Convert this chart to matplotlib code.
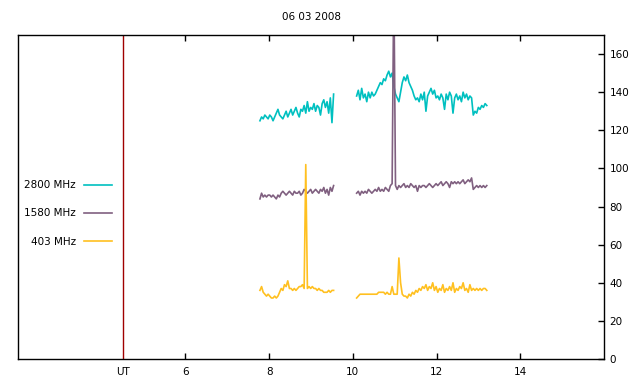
import numpy as np
import matplotlib
matplotlib.use("Agg")
import matplotlib.pyplot as plt

title = "06 03 2008"
labels = ["2800 MHz", "1580 MHz", "403 MHz"]
colors = ["#00c0c0", "#806080", "#ffc020"]

seg1_start, seg1_end = 7.78, 9.54
seg2_start, seg2_end = 10.09, 13.20

f2800_seg1 = [125, 127, 126, 128, 127, 126, 128, 127, 125, 127,
              129, 131, 128, 127, 126, 128, 130, 127, 129, 131,
              128, 130, 132, 129, 127, 131, 130, 133, 129, 135,
              130, 132, 131, 134, 130, 133, 132, 128, 134, 136,
              132, 135, 129, 137, 124, 139]
f2800_seg2 = [138, 141, 136, 142, 137, 139, 135, 140,
              137, 140, 138, 139, 141,
              143, 145, 144, 147, 146,
              149, 151, 148, 150,
              143, 139, 137, 135,
              140, 145, 148, 146, 149,
              145, 143, 141, 138, 136,
              137, 135, 139, 136, 140, 130, 138,
              140, 142, 139, 141, 137,
              138, 136, 139, 137, 131, 139, 136, 140, 138, 129,
              137, 139, 136, 138, 135, 140, 137, 139, 136, 138,
              137, 128,
              130, 129, 132, 131, 133, 132, 134, 133]

f1580_seg1 = [84, 87, 85, 86, 85, 86, 86, 85, 86, 85,
              84, 86, 85, 87, 88, 87, 86, 87, 88, 87,
              86, 88, 87, 87, 88, 86, 87, 89, 88, 87,
              88, 89, 87, 88, 89, 88, 87, 89, 88, 90,
              87, 89, 86, 90, 88, 91]
f1580_seg2 = [87, 88, 86, 88, 87, 88, 87, 89, 88, 87,
              88, 89, 88, 90, 88, 89, 88, 90, 89, 88,
              91, 92, 200, 91, 89, 91, 90, 91, 92, 90,
              91, 90, 92, 91, 90, 91, 88, 91, 90, 91,
              91, 90, 91, 92, 91, 90, 91, 92, 91, 92,
              93, 91, 92, 93, 92, 90, 93, 92, 93, 92,
              93, 92, 93, 94, 92, 93, 94, 93, 95,
              89, 90, 91, 90, 91, 90, 91, 90, 91]

f403_seg1 = [36, 38, 35, 34, 33, 34, 33, 32, 32, 33,
             32, 33, 35, 37, 36, 39, 38, 41, 37, 37,
             36, 37, 36, 37, 38, 38, 39, 37, 102, 37,
             38, 37, 38, 37, 37, 36, 37, 36, 36, 35,
             35, 35, 36, 35, 36, 36]
f403_seg2 = [32, 33, 34, 34, 34, 34, 34, 34, 34, 34,
             34, 34, 34, 35, 35, 35, 35, 34, 35, 34,
             34, 38, 34, 34, 34, 53, 40, 34, 33, 33,
             32, 34, 33, 35, 34, 36, 35, 37, 36, 38,
             37, 39, 36, 38, 37, 40, 36, 38, 35, 37,
             36, 39, 35, 37, 36, 38, 36, 40, 35, 37,
             36, 38, 37, 40, 36, 37, 35, 39, 36, 37,
             36, 37, 36, 37, 36, 37, 37, 36]

series = [(f2800_seg1, f2800_seg2), (f1580_seg1, f1580_seg2), (f403_seg1, f403_seg2)]

xticks = [4.5, 6, 8, 10, 12, 14]
xticklabels = ["UT", "6", "8", "10", "12", "14"]
yticks = [0, 20, 40, 60, 80, 100, 120, 140, 160]
ut_line = 4.5

plt.rcParams["font.family"] = ["DejaVu Sans"]
fig = plt.figure(figsize=(6.4, 3.84), dpi=100)
ax = fig.add_axes([18/640, 1-359/384, (604-18)/640, (359-35)/384])

ax.axvline(ut_line, color="#a00000", lw=1.0, zorder=1)

handles = []
for (s1, s2), lab, c in zip(series, labels, colors):
    t1 = np.linspace(seg1_start, seg1_end, len(s1))
    t2 = np.linspace(seg2_start, seg2_end, len(s2))
    h, = ax.plot(t1, s1, color=c, lw=1.2, label=lab, zorder=2)
    ax.plot(t2, s2, color=c, lw=1.2, zorder=2)
    handles.append(h)

ax.set_xlim(2, 16)
ax.set_ylim(0, 170)
ax.set_xticks(xticks)
ax.set_xticklabels(xticklabels, fontsize=7.5)
ax.set_yticks(yticks)
ax.set_yticklabels([str(v) for v in yticks], fontsize=7.5)
ax.yaxis.tick_right()
ax.tick_params(axis="x", direction="in", top=True, bottom=True, length=4, width=1, pad=6)
ax.tick_params(axis="y", direction="in", right=True, left=False, length=4, width=1, pad=4)
for tk in ax.xaxis.get_major_ticks()[:1]:
    tk.tick1line.set_visible(False)
    tk.tick2line.set_visible(False)
for sp in ax.spines.values():
    sp.set_linewidth(1.0)

ax.legend(handles=handles, loc="upper left", bbox_to_anchor=(0.0, 0.571),
          markerfirst=False, frameon=False, fontsize=7.5,
          handlelength=2.7, labelspacing=1.75, borderaxespad=0.2)

fig.text(311/640, 1-17/384, title, ha="center", va="center", fontsize=7.5)

fig.savefig("out.png", dpi=100)
